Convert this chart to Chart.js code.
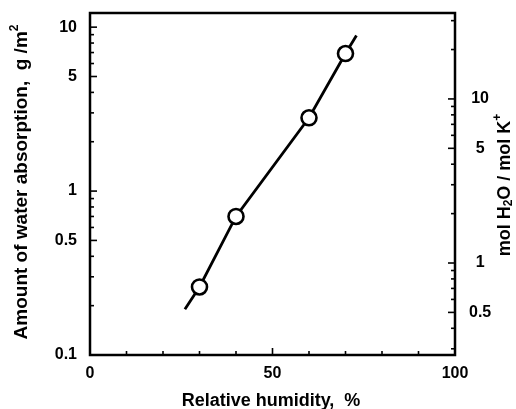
<!DOCTYPE html>
<html lang="en">
<head>
<meta charset="UTF-8">
<title>Water absorption vs relative humidity</title>
<script src="https://cdn.jsdelivr.net/npm/chart.js"></script>
<style>
  html, body { margin: 0; padding: 0; background: #fff; }
</style>
</head>
<body>
<canvas id="chart" width="516" height="409"></canvas>
<script>
// measured points
const humidity = [30, 40, 60, 70];
const absorption = [0.26, 0.70, 2.8, 6.9];
// drawn curve through the points
const fitHumidity = [26, 30, 40, 60, 70, 73];
const fitAbsorption = [0.19, 0.26, 0.70, 2.8, 6.9, 8.9];

// axes
const xTicks = [0, 10, 20, 30, 40, 50, 60, 70, 80, 90, 100];
const xLabels = [0, 50, 100];
const leftTicks = [0.1, 0.2, 0.3, 0.4, 0.5, 0.6, 0.7, 0.8, 0.9, 1, 2, 3, 4, 5, 6, 7, 8, 9, 10];
const leftLabels = [0.1, 0.5, 1, 5, 10];
const rightTicks = [0.3, 0.4, 0.5, 0.6, 0.7, 0.8, 0.9, 1, 2, 3, 4, 5, 6, 7, 8, 9, 10, 20, 30];
const rightLabels = [0.5, 1, 5, 10];
const leftRange = [0.1, 12.2];
const rightRange = [0.275, 33.4];

const FONT = '"Liberation Sans", Arial, Helvetica, sans-serif';

function tickList(vals) {
    return vals.map(v => ({ value: v }));
}

// text with small sub/superscript pieces
function drawRuns(ctx, runs, size) {
    const small = Math.round(size * 0.65);
    let total = 0;
    runs.forEach(r => {
        ctx.font = 'bold ' + (r.sub || r.sup ? small : size) + 'px ' + FONT;
        r.w = ctx.measureText(r.t).width;
        total += r.w;
    });
    let x = -total / 2;
    runs.forEach(r => {
        ctx.font = 'bold ' + (r.sub || r.sup ? small : size) + 'px ' + FONT;
        let dy = 0;
        if (r.sub) dy = size * 0.22;
        if (r.sup) dy = -size * 0.38;
        ctx.fillText(r.t, x, dy);
        x += r.w;
    });
}

const framePlugin = {
    id: 'frame',
    afterDatasetsDraw(chart) {
        const ctx = chart.ctx;
        const a = chart.chartArea;
        const sx = chart.scales.x, sl = chart.scales.y, sr = chart.scales.y2;
        ctx.save();
        ctx.strokeStyle = '#000';
        ctx.lineWidth = 1.6;
        // inward ticks
        xTicks.forEach(v => {
            const p = sx.getPixelForValue(v);
            const len = xLabels.includes(v) ? 7 : 4;
            ctx.beginPath(); ctx.moveTo(p, a.bottom); ctx.lineTo(p, a.bottom - len); ctx.stroke();
        });
        leftTicks.forEach(v => {
            const p = sl.getPixelForValue(v);
            const len = leftLabels.includes(v) ? 7 : 4;
            ctx.beginPath(); ctx.moveTo(a.left, p); ctx.lineTo(a.left + len, p); ctx.stroke();
        });
        rightTicks.forEach(v => {
            const p = sr.getPixelForValue(v);
            const len = rightLabels.includes(v) ? 7 : 4;
            ctx.beginPath(); ctx.moveTo(a.right, p); ctx.lineTo(a.right - len, p); ctx.stroke();
        });
        ctx.lineWidth = 2.5;
        ctx.strokeRect(a.left, a.top, a.right - a.left, a.bottom - a.top);
        ctx.restore();
    },
    afterDraw(chart) {
        const ctx = chart.ctx;
        const a = chart.chartArea;
        ctx.save();
        ctx.fillStyle = '#000';
        ctx.textBaseline = 'middle';
        ctx.textAlign = 'left';

        ctx.save();
        ctx.translate(22, 182);
        ctx.rotate(-Math.PI / 2);
        drawRuns(ctx, [{ t: 'Amount of water absorption,  g /m' }, { t: '2', sup: true }], 19);
        ctx.restore();

        ctx.save();
        ctx.translate(505, 185);
        ctx.rotate(-Math.PI / 2);
        drawRuns(ctx, [{ t: 'mol H' }, { t: '2', sub: true }, { t: 'O / mol K' }, { t: '+', sup: true }], 18);
        ctx.restore();

        ctx.save();
        ctx.translate(271, 401);
        drawRuns(ctx, [{ t: 'Relative humidity,  %' }], 18);
        ctx.restore();

        ctx.restore();
    }
};

const tickFont = { family: FONT, size: 16, weight: 'bold' };

function fitY(width) {
    return s => {
        s.width = width;
        s.paddingTop = 0;
        s.paddingBottom = 0;
    };
}

new Chart(document.getElementById('chart'), {
    type: 'scatter',
    data: {
        datasets: [{
            data: humidity.map((h, i) => ({ x: h, y: absorption[i] })),
            pointRadius: 7.5,
            pointBorderWidth: 2.6,
            pointBackgroundColor: '#fff',
            pointBorderColor: '#000',
            showLine: false
        }, {
            data: fitHumidity.map((h, i) => ({ x: h, y: fitAbsorption[i] })),
            showLine: true,
            pointRadius: 0,
            borderColor: '#000',
            borderWidth: 2.8,
            tension: 0
        }]
    },
    options: {
        responsive: false,
        animation: false,
        devicePixelRatio: 1,
        layout: { padding: { top: 13, left: 0, right: 0, bottom: 0 } },
        plugins: {
            legend: { display: false },
            tooltip: { enabled: false }
        },
        scales: {
            x: {
                type: 'linear',
                min: 0, max: 100,
                border: { display: false },
                grid: { display: false, drawTicks: false },
                afterBuildTicks: s => { s.ticks = tickList(xTicks); },
                afterFit: s => { s.height = 54; s.paddingLeft = 0; s.paddingRight = 0; },
                ticks: {
                    autoSkip: false, maxRotation: 0, padding: 9,
                    color: '#000', font: tickFont,
                    callback: v => xLabels.includes(v) ? String(v) : ''
                }
            },
            y: {
                type: 'logarithmic',
                position: 'left',
                min: leftRange[0], max: leftRange[1],
                border: { display: false },
                grid: { display: false, drawTicks: false },
                afterBuildTicks: s => { s.ticks = tickList(leftTicks); },
                afterFit: fitY(90),
                ticks: {
                    autoSkip: false, padding: 13,
                    color: '#000', font: tickFont,
                    callback: v => leftLabels.includes(v) ? String(v) : ''
                }
            },
            y2: {
                type: 'logarithmic',
                position: 'right',
                min: rightRange[0], max: rightRange[1],
                border: { display: false },
                grid: { display: false, drawTicks: false },
                afterBuildTicks: s => { s.ticks = tickList(rightTicks); },
                afterFit: fitY(61),
                ticks: {
                    autoSkip: false, padding: 14, crossAlign: 'center',
                    color: '#000', font: tickFont,
                    callback: v => rightLabels.includes(v) ? String(v) : ''
                }
            }
        }
    },
    plugins: [framePlugin]
});
</script>
</body>
</html>
